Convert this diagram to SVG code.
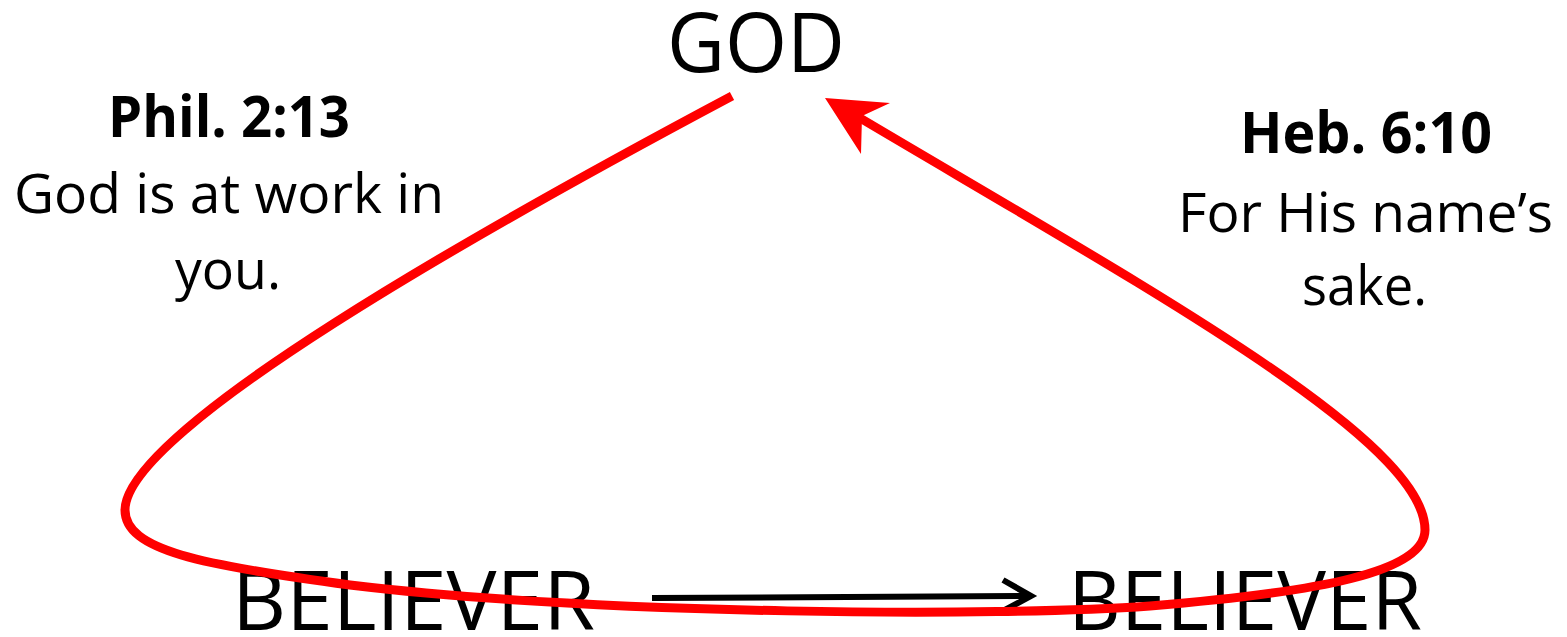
<svg xmlns="http://www.w3.org/2000/svg" width="1567" height="637" viewBox="0 0 1567 637">
<style>
text{font-family:"Open Sans","Liberation Sans",sans-serif;fill:#000}
.big{font-size:82px}
.ref{font-size:58px;font-weight:bold}
.body{font-size:54px}
.red{fill:none;stroke:#ff0000;stroke-width:9}
</style>
<rect width="1567" height="637" fill="#fff"/>
<g id="god"><text class="big" x="667" y="72" textLength="178" lengthAdjust="spacingAndGlyphs" font-size="84">GOD</text></g>
<g id="believer1"><text class="big" x="232" y="630" textLength="363" lengthAdjust="spacingAndGlyphs">BELIEVER</text></g>
<g id="believer2"><text class="big" x="1068" y="630" textLength="354" lengthAdjust="spacingAndGlyphs">BELIEVER</text></g>
<g id="phil">
<text class="ref" x="108" y="137" textLength="242" lengthAdjust="spacingAndGlyphs">Phil. 2:13</text>
<text class="body" x="14" y="213" textLength="430" lengthAdjust="spacingAndGlyphs">God is at work in</text>
<text class="body" x="175" y="289" textLength="106" lengthAdjust="spacingAndGlyphs">you.</text>
</g>
<g id="heb">
<text class="ref" x="1240" y="153" textLength="252" lengthAdjust="spacingAndGlyphs">Heb. 6:10</text>
<text class="body" x="1178" y="232" textLength="375" lengthAdjust="spacingAndGlyphs">For His name’s</text>
<text class="body" x="1302" y="305" textLength="125" lengthAdjust="spacingAndGlyphs">sake.</text>
</g>
<g id="connectors">
<line x1="652" y1="598" x2="1030" y2="596" stroke="#000" stroke-width="6"/>
<polyline points="1003,580 1031,596 1003,611" fill="none" stroke="#000" stroke-width="6"/>
<path class="red" d="M732,96 C480,230 125,430 125,510 C125,550 200,565 350,585 C600,615 1000,617 1150,606 C1320,592 1425,572 1425,530 C1425,440 1150,290 860,118"/>
<polygon points="825,98 890,103 862,116 861,154" fill="#ff0000"/>
</g>
</svg>
